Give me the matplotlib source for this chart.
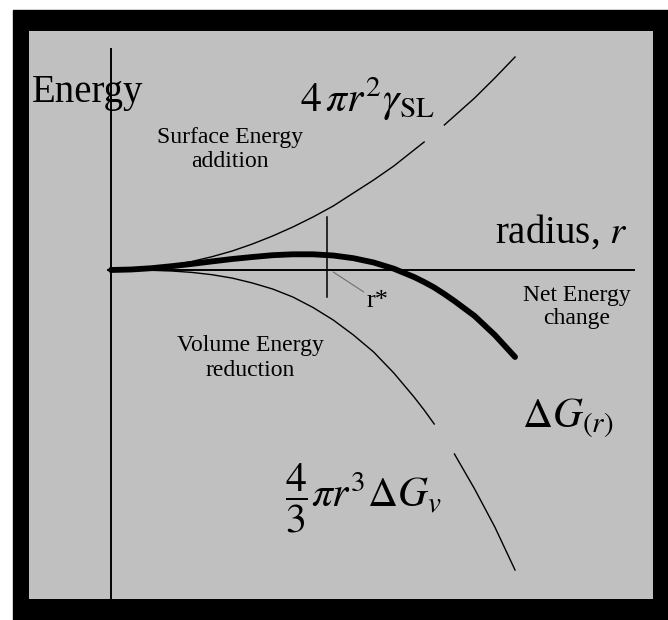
import matplotlib
matplotlib.use("Agg")
import matplotlib.pyplot as plt
from matplotlib.patches import Rectangle
import numpy as np

plt.rcParams['font.family'] = ['Liberation Serif', 'DejaVu Serif']
plt.rcParams['mathtext.fontset'] = 'stix'

# radius samples and the energy terms read along them (nan = break in the line)
radius = [0.0, 0.2, 0.4, 0.6, 0.8, 1.0, 1.2, 1.4, 1.6, 1.8, 2.0, 2.2,
          2.4, 2.6, 2.8, 3.0, 3.1, 3.2, 3.3, 3.4, 3.6, 3.8, 4.0]
surface_energy = [0.0, 0.005, 0.021, 0.048, 0.085, 0.133, 0.19, 0.26, 0.34,
                  0.43, 0.53, 0.64, 0.77, 0.90, 1.04, 1.20, 1.28, np.nan,
                  1.45, 1.54, 1.72, 1.92, 2.13]
volume_energy = [0.0, 0.0, -0.003, -0.01, -0.024, -0.047, -0.081, -0.13,
                 -0.19, -0.27, -0.375, -0.50, -0.65, -0.82, -1.03, -1.27,
                 -1.40, -1.54, np.nan, -1.84, -2.19, -2.57, -3.0]
net_energy = [0.0, 0.005, 0.018, 0.038, 0.061, 0.086, 0.11, 0.13, 0.148,
              0.157, 0.157, 0.145, 0.118, 0.075, 0.013, -0.07, -0.12,
              -0.175, -0.24, -0.31, -0.46, -0.65, -0.87]

r_star = 2.14
r_star_span = (-0.27, 0.53)
energy_axis_top = 2.21
radius_axis_end = 5.18

fig = plt.figure(figsize=(6.68, 6.2), dpi=100)
# black frame behind the panel
fig.patches.append(Rectangle((13 / 668, 0), 655 / 668, 610 / 620,
                             transform=fig.transFigure, color='black',
                             zorder=-10))

ax = fig.add_axes([29 / 668, 21 / 620, 624 / 668, 568 / 620])
ax.set_facecolor('#c0c0c0')
for s in ax.spines.values():
    s.set_visible(False)
ax.set_xticks([])
ax.set_yticks([])
ax.set_xlim(-0.812, 5.366)
ax.set_ylim(-3.29, 2.39)

# axes
ax.plot([0, 0], [energy_axis_top, -3.29], color='black', lw=1.4)
ax.plot([-0.03, radius_axis_end], [0, 0], color='black', lw=1.4)

# energy curves
ax.plot(radius, surface_energy, color='black', lw=1.0)
ax.plot(radius, volume_energy, color='black', lw=1.0)
ax.plot(radius, net_energy, color='black', lw=4.2, solid_capstyle='round')

# critical radius marker
ax.plot([r_star, r_star], r_star_span, color='black', lw=1.1)
ax.annotate('r*', xy=(2.2, -0.02), xytext=(2.53, -0.31), fontsize=19,
            va='center', ha='left',
            arrowprops=dict(arrowstyle='-', color='#707070', lw=0.8,
                            shrinkA=0, shrinkB=0))

# labels
ax.text(-0.782, 1.68, 'Energy', fontsize=28, va='baseline', ha='left')
ax.text(3.80, 0.27, 'radius, $r$', fontsize=28, va='baseline', ha='left')
ax.text(1.87, 1.58, r'$4\,\pi r^2\gamma_{\mathrm{SL}}$', fontsize=30,
        va='baseline', ha='left')
ax.text(1.18, 1.43, 'Surface Energy\naddition', fontsize=17, va='top',
        ha='center', multialignment='center', linespacing=1.2)
ax.text(4.61, -0.15, 'Net Energy\nchange', fontsize=17, va='top',
        ha='center', multialignment='center', linespacing=1.15)
ax.text(1.38, -0.65, 'Volume Energy\nreduction', fontsize=17, va='top',
        ha='center', multialignment='center', linespacing=1.25)
ax.text(1.72, -2.28, r'$\dfrac{4}{3}\pi r^3\Delta G_v$', fontsize=30,
        va='center', ha='left')
ax.text(4.07, -1.57, r'$\Delta G_{(r)}$', fontsize=30, va='baseline',
        ha='left')

fig.savefig('out.png', dpi=100, facecolor='white')
